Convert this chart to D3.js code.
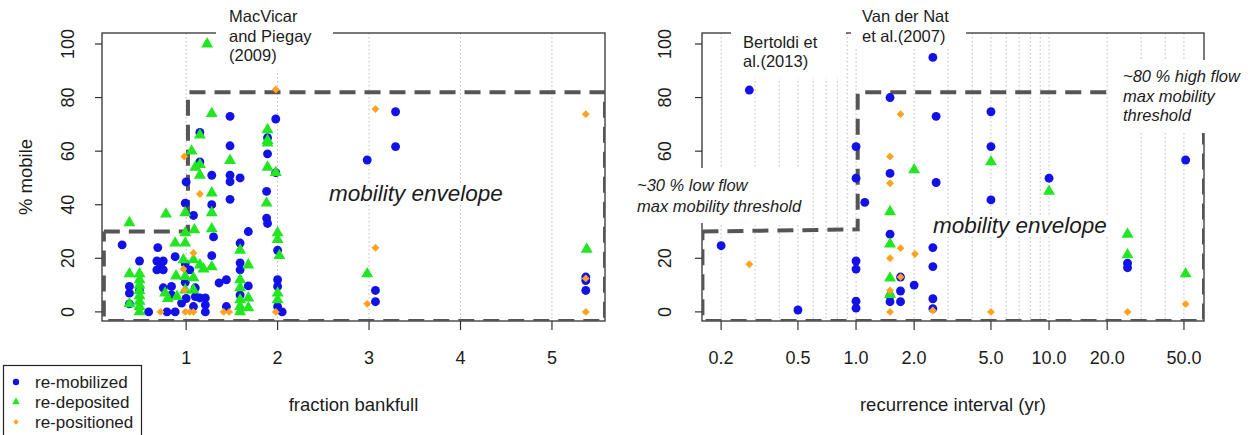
<!DOCTYPE html>
<html>
<head>
<meta charset="utf-8">
<script src="https://cdn.jsdelivr.net/npm/d3@7"></script>
<style>
body { margin: 0; background: #fff; }
svg text { font-family: 'Liberation Sans', Arial, sans-serif; fill: #1c1c1c; }
</style>
</head>
<body>
<svg id="chart" width="1248" height="435"></svg>
<script>
// points: [x, % mobile]
let bankfullMobilized = [[0.30,25],[0.38,9.5],[0.38,7],[0.38,3],[0.49,19],[0.49,8],[0.59,0],[0.69,24],[0.68,19],[0.75,19],
	[0.72,17],[0.68,15.7],[0.75,15.7],[0.75,9],[0.84,9.5],[0.84,6.3],[0.79,0],[0.88,20.6],[0.88,0],[0.95,3.3],[0.99,18],
	[0.99,11],[1.00,5],[1.00,48.5],[0.99,40.6],[1.08,36],[1.04,15.7],[1.10,9],[1.10,5.7],[1.08,2],[1.15,5.2],[1.21,5.2],
	[1.21,2.6],[1.21,0],[1.15,67],[1.15,56],[1.28,51],[1.28,40],[1.30,28],[1.28,21],[1.36,10.8],[1.44,12],[1.44,2],
	[1.48,73],[1.48,62],[1.48,51],[1.59,50],[1.48,48.6],[1.48,42],[1.59,25.7],[1.59,18.3],[1.59,15.7],[1.59,6.3],
	[1.68,30],[1.68,9.7],[1.88,45],[1.88,35],[1.89,33],[1.89,59],[1.89,65],[1.98,72],[1.98,52],[2.00,23],[2.00,12],
	[2.00,9.5],[2.00,2],[2.05,0],[2.98,56.7],[3.29,74.7],[3.29,61.7],[3.07,8],[3.07,3.8],[5.37,13],[5.37,11.7],[5.37,8]]

let bankfullDeposited = [[0.38,33.3],[0.38,14.2],[0.38,3],[0.49,14.2],[0.49,12],[0.49,10],[0.49,8],[0.49,6],[0.49,4],
	[0.49,2],[0.49,0],[0.78,36.5],[0.77,7],[0.80,5],[0.88,25.7],[0.89,13.4],[0.90,5.7],[0.99,37],[0.99,29.5],[0.99,25.7],
	[0.97,19.4],[0.99,13.2],[0.99,8.2],[1.06,60],[1.09,30.6],[1.08,19.4],[1.08,12.7],[1.08,8.2],[1.10,54],[1.15,66],
	[1.15,55],[1.15,51],[1.15,17.5],[1.19,16],[1.23,100],[1.28,74],[1.28,44.4],[1.28,37],[1.28,31],[1.28,16.8],
	[1.48,56.5],[1.59,23],[1.59,12],[1.59,9],[1.59,4.5],[1.59,2],[1.59,0],[1.68,17.5],[1.68,5.2],[1.68,1.5],[1.88,40.6],
	[1.89,68],[1.89,64],[1.89,63],[1.89,54],[1.98,52],[2.00,29.5],[2.00,27],[2.02,21],[2.00,7],[2.00,4.5],[2.98,14.2],
	[5.38,23.4]]

let bankfullPositioned = [[0.72,0],[0.99,0],[1.04,0],[0.98,58],[0.97,16],[0.98,8.2],[1.08,22],[1.15,44],[1.08,0],
	[1.41,0],[1.47,0],[1.98,83],[1.98,0],[3.07,75.7],[3.07,23.9],[2.98,3],[5.37,73.8],[5.37,12.5],[5.37,0]]

let recurMobilized = [[0.28,82.8],[0.20,24.7],[0.50,0.7],[1.0,61.7],[1.0,49.9],[1.11,40.9],[1.0,19],[1.0,16],[1.0,4],
	[1.0,1.4],[1.5,80],[1.5,51.7],[1.5,29],[1.5,6],[1.5,3.8],[1.7,13],[1.7,7.8],[1.7,3.8],[2.0,10],[2.5,95],[2.6,73],
	[2.6,48.3],[2.5,24],[2.5,16.9],[2.5,4.9],[2.5,1.2],[5,74.7],[5,61.7],[5,41.8],[10,49.9],[25.5,18.2],[25.5,16.5],
	[51,56.7]]

let recurDeposited = [[1.5,37.4],[1.5,25.3],[1.5,12.6],[1.5,6.5],[2.0,53],[5,56],[10,45],[25.5,29],[25.5,21.3],[51,14.2]]

let recurPositioned = [[0.28,17.8],[1.5,58],[1.5,48],[1.5,20],[1.5,8],[1.5,0],[1.7,73.8],[1.7,23.8],[1.7,13],
	[2.02,21.6],[2.5,0.5],[5,0],[25.5,0],[51,2.9]]

// mobility envelope outlines (low flow ~30 %, high flow ~80 %)
let bankfullEnvX = [0.1, 1.02, 1.02, 5.58, 5.58, 0.1, 0.1]
let bankfullEnvY = [30, 30, 82, 82, -3.4, -3.4, 30]
let recurEnvX = [0.16, 1.02, 1.02, 63.5, 63.5, 0.16, 0.16]
let recurEnvY = [30, 30.8, 82, 82, -3.4, -3.4, 30]

let yTicks = [0, 20, 40, 60, 80, 100]
let bankfullTicks = [1, 2, 3, 4, 5]
let bankfullGrid = [1, 2, 3, 4, 5]
let recurTicks = [0.2, 0.5, 1, 2, 5, 10, 20, 50]
let recurGrid = [0.2, 0.3, 0.4, 0.5, 0.6, 0.7, 0.8, 0.9, 1, 2, 3, 4, 5, 6, 7, 8, 9, 10, 20, 30, 40, 50]

let seriesNames = ['re-mobilized', 're-deposited', 're-positioned']
let colors = ['#1111e8', '#22e622', '#ffa21c']

let svg = d3.select('#chart')

let yScale = d3.scaleLinear()
	.domain([-3.4, 104.1])
	.range([321, 33])

let symbols = [
	d3.symbol().type(d3.symbolCircle).size(62),
	d3.symbol().type(d3.symbolTriangle).size(62),
	d3.symbol().type(d3.symbolSquare).size(31)
]

let panels = [
	{
		id: 'bf',
		x: d3.scaleLinear().domain([0.08, 5.58]).range([102, 605]),
		ticks: bankfullTicks,
		fmt: d3.format('d'),
		grid: bankfullGrid,
		series: [bankfullMobilized, bankfullDeposited, bankfullPositioned],
		envX: bankfullEnvX,
		envY: bankfullEnvY,
		xLabel: 'fraction bankfull',
		yLabel: '% mobile',
		tickLabelX: 74,
		envText: [329, 201],
		notes: [
			{ lines: ['MacVicar', 'and Piegay', '(2009)'], x: 229, y: 22, dy: 19.5, box: [216, 0, 333, 70] }
		]
	},
	{
		id: 'ri',
		x: d3.scaleLog().domain([0.1592, 63.5]).range([702, 1204]),
		ticks: recurTicks,
		fmt: d3.format('.1f'),
		grid: recurGrid,
		series: [recurMobilized, recurDeposited, recurPositioned],
		envX: recurEnvX,
		envY: recurEnvY,
		xLabel: 'recurrence interval (yr)',
		yLabel: null,
		tickLabelX: 671,
		envText: [933, 233],
		notes: [
			{ lines: ['Bertoldi et', 'al.(2013)'], x: 743, y: 48, dy: 19, box: [731, 28, 846, 78] },
			{ lines: ['Van der Nat', 'et al.(2007)'], x: 862, y: 22, dy: 19.5, box: [851, 0, 966, 48] },
			{ lines: ['~30 % low flow', 'max mobility threshold'], x: 637, y: 191, dy: 21, italic: true, box: [628, 168, 808, 223] },
			{ lines: ['~80 % high flow', 'max mobility', 'threshold'], x: 1123, y: 82, dy: 19.5, italic: true, box: [1113, 60, 1243, 133] }
		]
	}
]

panels.forEach(p => {

	let [x0, x1] = p.x.range()
	let [y1, y0] = yScale.range()

	svg.append('clipPath')
		.attr('id', 'clip-' + p.id)
		.append('rect')
		.attr('x', x0)
		.attr('y', y0)
		.attr('width', x1 - x0)
		.attr('height', y1 - y0)

	let g = svg.append('g')

	// dotted verticals
	g.append('g')
		.selectAll('line')
		.data(p.grid)
		.enter()
		.append('line')
		.attr('x1', d => p.x(d))
		.attr('x2', d => p.x(d))
		.attr('y1', y0)
		.attr('y2', y1)
		.attr('stroke', '#bcbcbc')
		.attr('stroke-width', 1)
		.attr('stroke-dasharray', '1.5,2.5')

	g.append('rect')
		.attr('x', x0)
		.attr('y', y0)
		.attr('width', x1 - x0)
		.attr('height', y1 - y0)
		.attr('fill', 'none')
		.attr('stroke', '#333')
		.attr('stroke-width', 1.3)

	// y axis
	g.selectAll('.ytick')
		.data(yTicks)
		.enter()
		.append('line')
		.attr('x1', x0 - 7)
		.attr('x2', x0)
		.attr('y1', d => yScale(d))
		.attr('y2', d => yScale(d))
		.attr('stroke', '#333')
		.attr('stroke-width', 1.2)

	g.selectAll('.ylab')
		.data(yTicks)
		.enter()
		.append('text')
		.attr('transform', d => `translate(${p.tickLabelX},${yScale(d)}) rotate(-90)`)
		.attr('text-anchor', 'middle')
		.style('font-size', '18px')
		.text(d => d)

	// x axis
	g.selectAll('.xtick')
		.data(p.ticks)
		.enter()
		.append('line')
		.attr('x1', d => p.x(d))
		.attr('x2', d => p.x(d))
		.attr('y1', y1)
		.attr('y2', y1 + 9)
		.attr('stroke', '#333')
		.attr('stroke-width', 1.2)

	g.selectAll('.xlab')
		.data(p.ticks)
		.enter()
		.append('text')
		.attr('x', d => p.x(d))
		.attr('y', 364)
		.attr('text-anchor', 'middle')
		.style('font-size', '18px')
		.text(d => p.fmt(d))

	g.append('text')
		.attr('x', (x0 + x1) / 2)
		.attr('y', 411)
		.attr('text-anchor', 'middle')
		.style('font-size', '18.5px')
		.text(p.xLabel)

	if(p.yLabel){
		g.append('text')
			.attr('transform', `translate(32,${(y0 + y1) / 2}) rotate(-90)`)
			.attr('text-anchor', 'middle')
			.style('font-size', '18.5px')
			.text(p.yLabel)
	}

	// envelope
	let env = d3.line()
		.x(d => p.x(d[0]))
		.y(d => yScale(d[1]))

	g.append('path')
		.datum(p.envX.map((d, i) => [d, p.envY[i]]))
		.attr('d', env)
		.attr('clip-path', `url(#clip-${p.id})`)
		.attr('fill', 'none')
		.attr('stroke', '#555')
		.attr('stroke-width', 4)
		.attr('stroke-dasharray', '16,9')

	// annotations with white backing
	p.notes.forEach(n => {
		g.append('rect')
			.attr('x', n.box[0])
			.attr('y', n.box[1])
			.attr('width', n.box[2] - n.box[0])
			.attr('height', n.box[3] - n.box[1])
			.attr('fill', '#fff')

		g.append('text')
			.attr('x', n.x)
			.attr('y', n.y)
			.style('font-size', '16.5px')
			.style('font-style', n.italic ? 'italic' : 'normal')
			.selectAll('tspan')
			.data(n.lines)
			.enter()
			.append('tspan')
			.attr('x', n.x)
			.attr('dy', (d, i) => i ? n.dy : 0)
			.text(d => d)
	})

	let envText = g.append('text')
		.attr('x', p.envText[0])
		.attr('y', p.envText[1])
		.style('font-size', '22.5px')
		.style('font-style', 'italic')
		.text('mobility envelope')

	let bb = envText.node().getBBox()
	g.insert('rect', () => envText.node())
		.attr('x', bb.x - 3)
		.attr('y', bb.y + 2)
		.attr('width', bb.width + 6)
		.attr('height', bb.height - 4)
		.attr('fill', '#fff')

	// points: blue first, then green, then orange on top
	p.series.forEach((s, si) => {
		g.append('g')
			.selectAll('path')
			.data(s)
			.enter()
			.append('path')
			.attr('d', symbols[si])
			.attr('transform', d => `translate(${p.x(d[0])},${yScale(d[1])})` + (si === 2 ? ' rotate(45)' : ''))
			.attr('fill', colors[si])
	})
})

// legend
let legend = svg.append('g')

legend.append('rect')
	.attr('x', 3.5)
	.attr('y', 365.5)
	.attr('width', 138)
	.attr('height', 80)
	.attr('fill', '#fff')
	.attr('stroke', '#222')
	.attr('stroke-width', 1.2)

let legendSymbols = [
	d3.symbol().type(d3.symbolCircle).size(32),
	d3.symbol().type(d3.symbolTriangle).size(26),
	d3.symbol().type(d3.symbolSquare).size(14)
]

seriesNames.forEach((name, i) => {
	legend.append('path')
		.attr('d', legendSymbols[i])
		.attr('transform', `translate(16,${382 + i * 20})` + (i === 2 ? ' rotate(45)' : ''))
		.attr('fill', colors[i])

	legend.append('text')
		.attr('x', 35)
		.attr('y', 388 + i * 20)
		.style('font-size', '17px')
		.text(name)
})
</script>
</body>
</html>
